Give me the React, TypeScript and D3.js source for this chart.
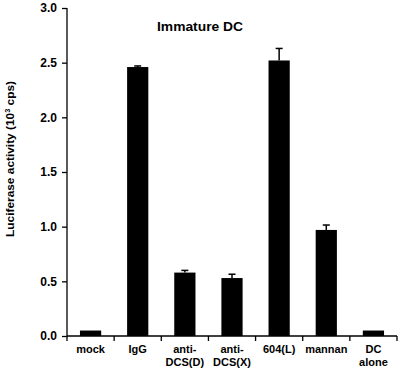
import React, { useEffect, useRef } from 'react';
import * as d3 from 'd3';

const categories = ['mock', 'IgG', 'anti-\nDCS(D)', 'anti-\nDCS(X)', '604(L)', 'mannan', 'DC\nalone'];
const values = [0.05, 2.46, 0.58, 0.53, 2.52, 0.97, 0.05];
const errors = [0, 0.01, 0.02, 0.035, 0.11, 0.045, 0];
const yTicks = [0, 0.5, 1.0, 1.5, 2.0, 2.5, 3.0];

const W = 400;
const H = 370;
const margin = { top: 8, right: 3, bottom: 34, left: 67 };
const font = '"Liberation Sans", Arial, sans-serif';

export default function App() {
  const ref = useRef<SVGSVGElement>(null);

  useEffect(() => {
    const svg = d3.select(ref.current);
    svg.selectAll('*').remove();

    const width = W - margin.left - margin.right;
    const height = H - margin.top - margin.bottom;

    const x = d3.scaleBand().domain(categories).range([0, width]).paddingInner(0.55).paddingOuter(0.275);
    const xEdges = d3.scaleLinear().domain([0, categories.length]).range([0, width]);
    const y = d3.scaleLinear().domain([0, 3]).range([height, 0]);

    const g = svg.append('g').attr('transform', `translate(${margin.left},${margin.top})`);

    // bars
    g.selectAll('rect.bar')
      .data(values)
      .enter()
      .append('rect')
      .attr('class', 'bar')
      .attr('x', (d, i) => x(categories[i])!)
      .attr('y', d => y(d))
      .attr('width', x.bandwidth())
      .attr('height', d => height - y(d))
      .attr('fill', '#000');

    // error bars, upper half only
    const eb = g.selectAll('g.err')
      .data(values.map((v, i) => ({ v, e: errors[i], c: categories[i] })).filter(d => d.e > 0.005))
      .enter()
      .append('g')
      .attr('class', 'err')
      .attr('transform', d => `translate(${x(d.c)! + x.bandwidth() / 2},0)`);
    eb.append('line')
      .attr('y1', d => y(d.v))
      .attr('y2', d => y(d.v + d.e))
      .attr('stroke', '#000')
      .attr('stroke-width', 1.5);
    eb.append('line')
      .attr('x1', -3.5)
      .attr('x2', 3.5)
      .attr('y1', d => y(d.v + d.e))
      .attr('y2', d => y(d.v + d.e))
      .attr('stroke', '#000')
      .attr('stroke-width', 1.5);

    // y axis
    const yAxis = g.append('g')
      .call(d3.axisLeft(y).tickValues(yTicks).tickSize(5).tickPadding(5).tickFormat(d3.format('.1f')));
    yAxis.select('path').attr('stroke', '#000').attr('stroke-width', 1.3).attr('d', `M0,${height}V0`);
    yAxis.selectAll('line').attr('stroke-width', 1.3);
    yAxis.selectAll('text')
      .style('font-family', font)
      .style('font-size', '12px')
      .style('font-weight', 'bold')
      .attr('fill', '#000');

    // x axis, ticks sit between categories
    const xAxis = g.append('g').attr('transform', `translate(0,${height})`);
    xAxis.append('line')
      .attr('x1', 0).attr('x2', width)
      .attr('stroke', '#000').attr('stroke-width', 1.3);
    xAxis.selectAll('line.tick')
      .data(d3.range(categories.length + 1))
      .enter()
      .append('line')
      .attr('class', 'tick')
      .attr('x1', d => xEdges(d)).attr('x2', d => xEdges(d))
      .attr('y1', 0).attr('y2', 5)
      .attr('stroke', '#000').attr('stroke-width', 1.3);

    const labels = xAxis.selectAll('text')
      .data(categories)
      .enter()
      .append('text')
      .attr('x', d => x(d)! + x.bandwidth() / 2)
      .attr('y', 17)
      .attr('text-anchor', 'middle')
      .style('font-family', font)
      .style('font-size', '11px')
      .style('font-weight', 'bold')
      .attr('fill', '#000');
    labels.selectAll('tspan')
      .data(d => d.split('\n').map((s, j) => ({ s, j })))
      .enter()
      .append('tspan')
      .attr('x', function () {
        return (this.parentNode as SVGTextElement).getAttribute('x');
      })
      .attr('dy', d => (d.j === 0 ? 0 : 12.5))
      .text(d => d.s);

    // title
    g.append('text')
      .attr('x', 200 - margin.left)
      .attr('y', 31 - margin.top)
      .attr('text-anchor', 'middle')
      .attr('textLength', 86)
      .attr('lengthAdjust', 'spacingAndGlyphs')
      .style('font-family', font)
      .style('font-size', '12.5px')
      .style('font-weight', 'bold')
      .text('Immature DC');

    // y label
    const yl = svg.append('text')
      .attr('transform', 'translate(14,159) rotate(-90)')
      .attr('text-anchor', 'middle')
      .attr('textLength', 156)
      .attr('lengthAdjust', 'spacingAndGlyphs')
      .style('font-family', font)
      .style('font-size', '11.5px')
      .style('font-weight', 'bold');
    yl.append('tspan').text('Luciferase activity (10');
    yl.append('tspan').attr('dy', -4).style('font-size', '7px').text('3');
    yl.append('tspan').attr('dy', 4).text(' cps)');
  }, []);

  return (
    <svg
      ref={ref}
      width={W}
      height={H}
      style={{ position: 'absolute', left: 0, top: 0, background: '#fff' }}
    />
  );
}
